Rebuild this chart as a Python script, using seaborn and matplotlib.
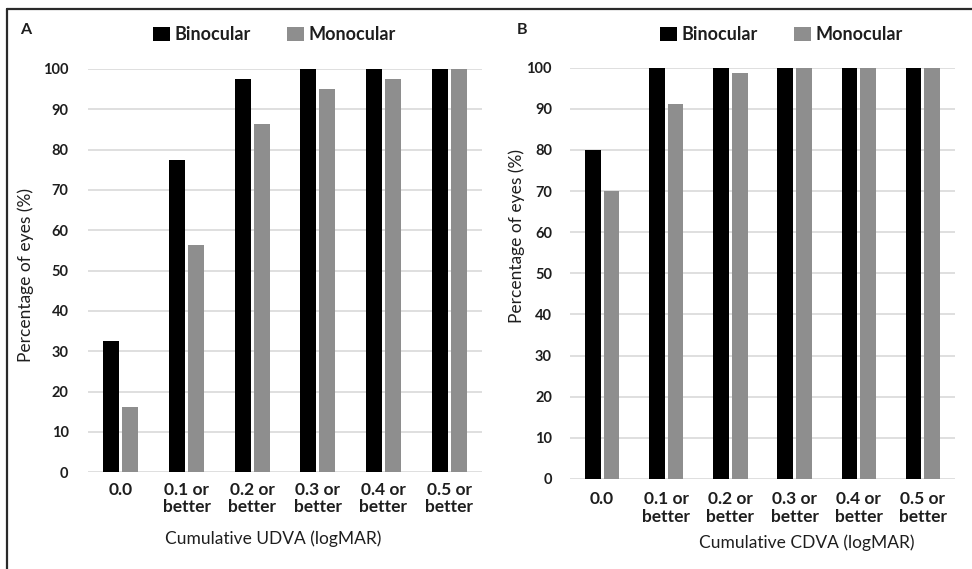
import matplotlib
matplotlib.use("Agg")
import matplotlib.pyplot as plt
from matplotlib.lines import Line2D
import pandas as pd
import seaborn as sns

# Cumulative visual acuity categories (logMAR)
categories = ["0.0", "0.1 or\nbetter", "0.2 or\nbetter", "0.3 or\nbetter",
              "0.4 or\nbetter", "0.5 or\nbetter"]
series_names = ["Binocular", "Monocular"]

# Panel A: uncorrected distance visual acuity (% of eyes)
udva_binocular = [32.5, 77.5, 97.5, 100, 100, 100]
udva_monocular = [16.25, 56.25, 86.25, 95, 97.5, 100]

# Panel B: corrected distance visual acuity (% of eyes)
cdva_binocular = [80, 100, 100, 100, 100, 100]
cdva_monocular = [70, 91.25, 98.75, 100, 100, 100]

yticks = [0, 10, 20, 30, 40, 50, 60, 70, 80, 90, 100]


def long_table(binocular, monocular):
    return pd.DataFrame({
        "category": categories * 2,
        "group": [series_names[0]] * len(categories) + [series_names[1]] * len(categories),
        "value": list(binocular) + list(monocular),
    })


sns.set_theme(style="white")
plt.rcParams["font.family"] = ["Lato", "DejaVu Sans"]

W, H = 972, 569
fig = plt.figure(figsize=(W / 100, H / 100), dpi=100)

palette = {"Binocular": "#000000", "Monocular": "#8e8e8e"}
TEXT = "#1e1e1e"


def px_axes(left, right, top, bottom):
    return fig.add_axes([left / W, (H - bottom) / H, (right - left) / W, (bottom - top) / H])


panels = [
    dict(ax=px_axes(88, 482, 69, 472.3), data=long_table(udva_binocular, udva_monocular),
         letter="A", letter_xy=(20, 30), xlabel="Cumulative UDVA (logMAR)",
         xlabel_pos=(0.47, -0.145), ylabel_pos=(-0.137, 0.49), legend_xy=(274, 35),
         ypad=14, xpad=7),
    dict(ax=px_axes(570, 955, 67.7, 479), data=long_table(cdva_binocular, cdva_monocular),
         letter="B", letter_xy=(517, 30), xlabel="Cumulative CDVA (logMAR)",
         xlabel_pos=(0.616, -0.134), ylabel_pos=(-0.117, 0.59), legend_xy=(781, 35),
         ypad=13, xpad=9),
]

for p in panels:
    ax = p["ax"]
    sns.barplot(data=p["data"], x="category", y="value", hue="group",
                order=categories, hue_order=series_names, palette=palette,
                width=0.58, gap=0.16, saturation=1, linewidth=0, ax=ax)
    ax.set_xlim(-0.5, len(categories) - 0.5)
    ax.set_ylim(0, 100)
    ax.set_yticks(yticks)
    ax.set_yticklabels([str(v) for v in yticks], fontsize=10.5, fontweight="bold")
    ax.set_xticks(range(len(categories)))
    ax.set_xticklabels(categories, fontsize=12.5, fontweight="bold", linespacing=1.1)
    ax.tick_params(axis="y", length=0, pad=p["ypad"], colors=TEXT)
    ax.tick_params(axis="x", length=0, pad=p["xpad"], colors=TEXT)
    ax.yaxis.grid(True, color="#d9d9d9", linewidth=1.2)
    ax.set_axisbelow(True)
    for s in ax.spines.values():
        s.set_visible(False)

    ax.set_xlabel(p["xlabel"], fontsize=12.5, color=TEXT)
    ax.xaxis.set_label_coords(*p["xlabel_pos"])
    ax.set_ylabel("Percentage of eyes (%)", fontsize=12.5, color=TEXT)
    ax.yaxis.set_label_coords(*p["ylabel_pos"])

    handles, labels = ax.get_legend_handles_labels()
    ax.legend_.remove()
    lx, ly = p["legend_xy"]
    fig.legend(handles, labels, loc="center", bbox_to_anchor=(lx / W, 1 - ly / H),
               ncol=2, frameon=False, handlelength=0.95, handleheight=0.85,
               handletextpad=0.25, columnspacing=2.0,
               prop={"size": 13, "weight": "bold"}, labelcolor=TEXT)

    fx, fy = p["letter_xy"]
    fig.text(fx / W, 1 - fy / H, p["letter"], fontsize=11.5, fontweight="bold",
             ha="left", va="center", color=TEXT)

# Outer frame around the figure panels
fig.add_artist(Line2D([7 / W, 1.0], [1 - 9 / H, 1 - 9 / H], color="#2a2a2a",
                      linewidth=1.6, transform=fig.transFigure))
fig.add_artist(Line2D([7 / W, 7 / W], [0.0, 1 - 9 / H], color="#2a2a2a",
                      linewidth=1.6, transform=fig.transFigure))

fig.savefig("out.png", dpi=100, facecolor="white")
